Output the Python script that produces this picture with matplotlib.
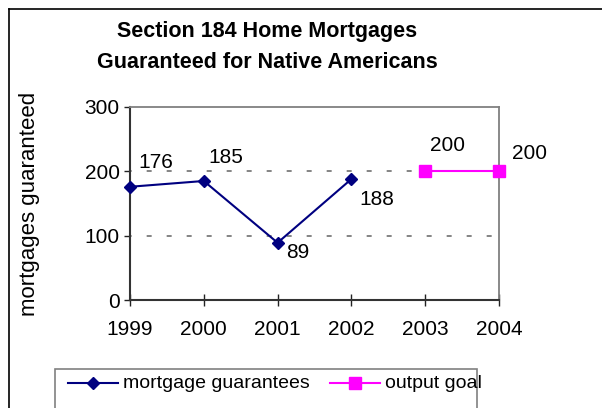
import matplotlib
matplotlib.use("Agg")
import matplotlib.pyplot as plt
from matplotlib.lines import Line2D
from matplotlib.patches import Rectangle

years = [1999, 2000, 2001, 2002, 2003, 2004]
mort_years = [1999, 2000, 2001, 2002]
mort_values = [176, 185, 89, 188]
goal_years = [2003, 2004]
goal_values = [200, 200]
yticks = [0, 100, 200, 300]

# label offsets (pixels) as in the reference
mort_offsets = [(8, 24), (5, 23), (9, -10), (8, -20)]
goal_offsets = [(5, 26), (13, 18)]

plt.rcParams['font.family'] = ['Liberation Sans', 'DejaVu Sans']
DPI = 100
fig = plt.figure(figsize=(6.02, 4.08), dpi=DPI)
W, H = 602, 408

def fx(px):
    return px / W

def fy(py):
    return 1 - py / H

# outer chart border (cropped)
fig.add_artist(Line2D([fx(8.5), fx(8.5)], [fy(8.5), 0], color='black', lw=1.2, transform=fig.transFigure))
fig.add_artist(Line2D([fx(8.5), 1], [fy(8.5), fy(8.5)], color='black', lw=1.2, transform=fig.transFigure))

ax = fig.add_axes([fx(130), fy(300), fx(499) - fx(130), fy(107) - fy(300)])
ax.set_xlim(1999, 2004)
ax.set_ylim(0, 300)

for y in [100, 200]:
    ax.axhline(y, color='#707070', lw=1.2, linestyle=(2, (3.0, 9.0)), zorder=1)

navy = '#000080'
magenta = '#FF00FF'
ax.plot(mort_years, mort_values, color=navy, lw=1.5, marker='D', ms=6.6,
        zorder=3, clip_on=False)
ax.plot(goal_years, goal_values, color=magenta, lw=1.5, marker='s', ms=9,
        zorder=3, clip_on=False)

pt = 72 / DPI
for x, v, (dx, dy) in zip(mort_years, mort_values, mort_offsets):
    ax.annotate(str(v), (x, v), xytext=(dx * pt, dy * pt), textcoords='offset points',
                ha='left', va='center', fontsize=15)
for x, v, (dx, dy) in zip(goal_years, goal_values, goal_offsets):
    ax.annotate(str(v), (x, v), xytext=(dx * pt, dy * pt), textcoords='offset points',
                ha='left', va='center', fontsize=15, annotation_clip=False)

ax.set_xticks(years)
ax.set_xticklabels([str(y) for y in years], fontsize=15)
ax.set_yticks(yticks)
ax.set_yticklabels([str(y) for y in yticks], fontsize=15)
ax.tick_params(axis='x', direction='inout', length=9, width=1, color='#222222', pad=10)
ax.tick_params(axis='y', direction='out', length=4.5, width=1, color='#222222', pad=3)

for s in ['left', 'bottom']:
    ax.spines[s].set_color('#333333')
    ax.spines[s].set_linewidth(1.5)
for s in ['top', 'right']:
    ax.spines[s].set_color('#808080')
    ax.spines[s].set_linewidth(1.3)

fig.text(fx(30), fy(204), 'mortgages guaranteed', rotation=90, ha='center', va='center', fontsize=16)
fig.text(fx(267), fy(31), 'Section 184 Home Mortgages', ha='center', va='center',
         fontsize=15.5, fontweight='bold')
fig.text(fx(267), fy(63), 'Guaranteed for Native Americans', ha='center', va='center',
         fontsize=15.5, fontweight='bold')

# legend frame (cropped at bottom)
fig.add_artist(Rectangle((fx(55.5), fy(420)), fx(477) - fx(55.5), fy(368.5) - fy(420),
                         transform=fig.transFigure, fill=False, edgecolor='#808080', lw=1.2))
ly = fy(383)
fig.add_artist(Line2D([fx(68), fx(118)], [ly, ly], color=navy, lw=1.5, marker=None, transform=fig.transFigure))
fig.add_artist(Line2D([fx(93)], [ly], color=navy, marker='D', ms=6.6, transform=fig.transFigure))
fig.text(fx(123), ly, 'mortgage guarantees', ha='left', va='center', fontsize=14)
fig.add_artist(Line2D([fx(330), fx(380)], [ly, ly], color=magenta, lw=1.5, transform=fig.transFigure))
fig.add_artist(Line2D([fx(355)], [ly], color=magenta, marker='s', ms=8, transform=fig.transFigure))
fig.text(fx(385), ly, 'output goal', ha='left', va='center', fontsize=14)

fig.savefig('out.png', dpi=DPI)
